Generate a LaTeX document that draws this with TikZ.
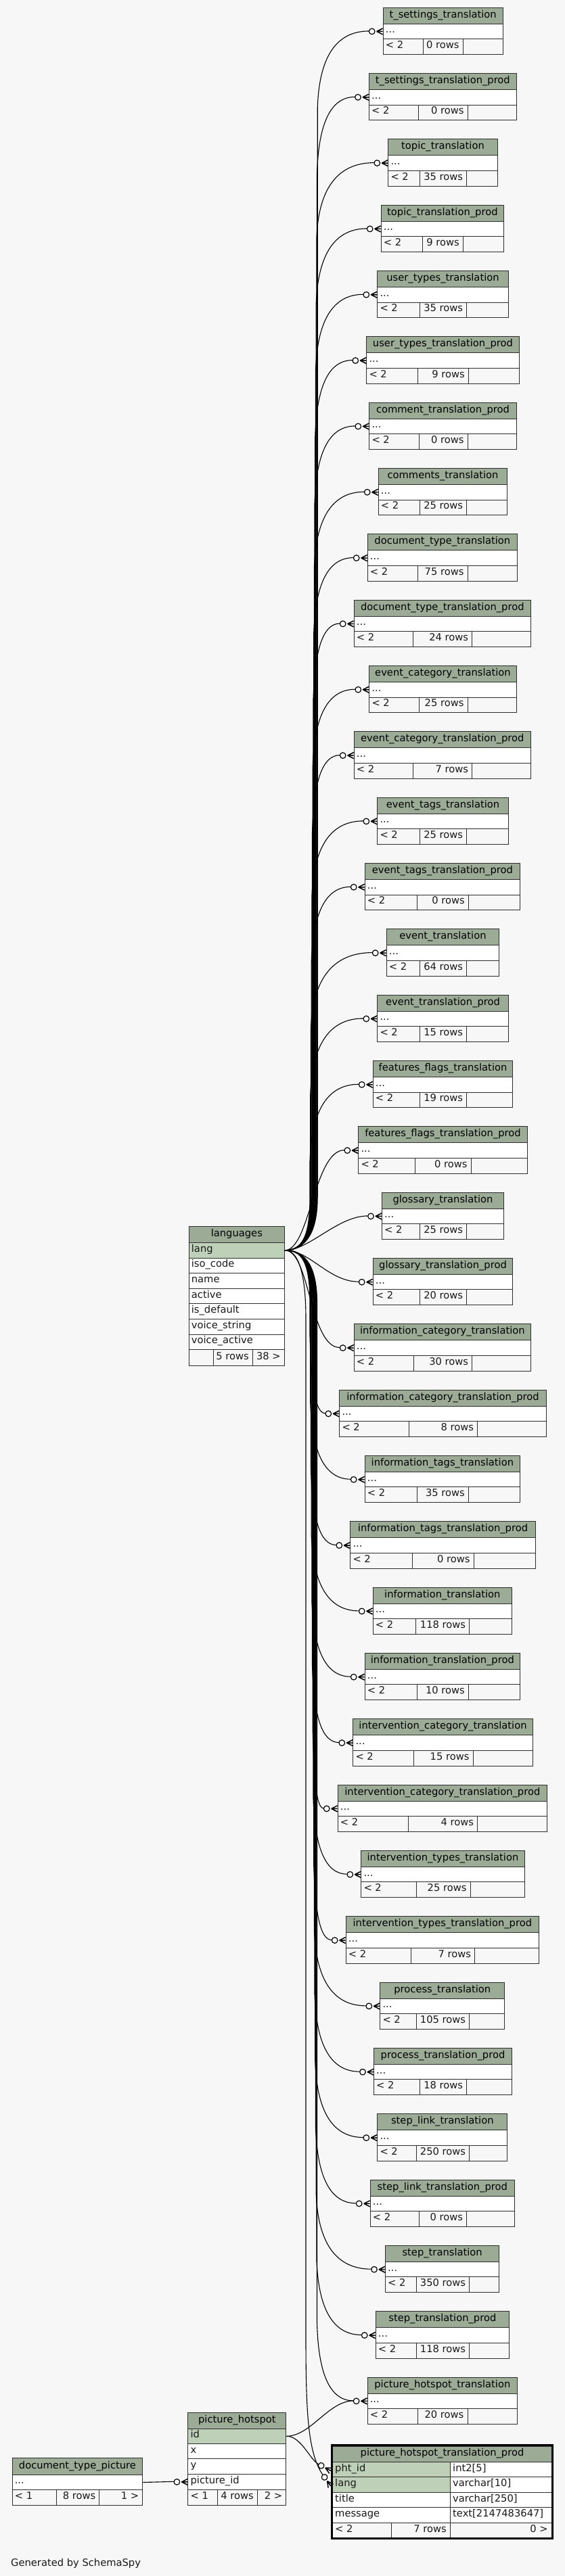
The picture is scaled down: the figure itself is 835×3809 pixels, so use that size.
\documentclass[tikz,border=0pt]{standalone}
\usepackage{fontspec}
\setmainfont{DejaVu Sans}
\definecolor{bgc}{HTML}{F7F7F7}
\definecolor{hdrc}{HTML}{9BAB96}
\definecolor{pkc}{HTML}{BED1B8}
\definecolor{bdc}{HTML}{2E2E2E}
\newcommand\fsz{\fontsize{14.7}{17}\selectfont}
\tikzset{
  hdrbox/.style={draw=bdc, line width=1pt, fill=hdrc, inner sep=0pt, minimum height=24pt, text height=9.5pt, text depth=3.5pt, font=\fsz},
  rowbox/.style={draw=bdc, line width=1pt, fill=white, inner sep=0pt, minimum height=22.5pt},
  footbox/.style={draw=bdc, line width=1pt, fill=bgc, inner sep=0pt, minimum height=22.8pt},
  txtn/.style={inner sep=0pt, font=\fsz, text=black!90},
  conn/.style={draw=black, line width=1.1pt},
  crowl/.style={draw=black, line width=1.5pt},
  circ/.style={draw=black, line width=1.2pt, fill=white},
}
% crow's foot with open circle; #1 angle (image coords, clockwise), #2 tip
\newcommand\crowfoot[2][0]{%
  \begin{scope}[shift={(#2)}, rotate=-#1]
    \draw[crowl] (-9,0) -- (0,0) (-9,0) -- (0,4.5) (-9,0) -- (0,-4.5);
    \draw[circ] (-16,0) circle[radius=4.3pt];
  \end{scope}}
% right-hand table: #1 idx, #2 L, #3 R, #4 c1, #5 c2, #6 title, #7 rows
\newcommand\rtab[7]{%
  \pgfmathsetmacro\rtT{10.7+(#1-1)*97.33}%
  \pgfmathsetmacro\rtA{\rtT+24}%
  \pgfmathsetmacro\rtB{\rtT+46.5}%
  \pgfmathsetmacro\rtC{\rtT+69.3}%
  \pgfmathsetmacro\rtW{#3-#2}%
  \pgfmathsetmacro\rtWa{#4-#2}%
  \pgfmathsetmacro\rtWb{#5-#4}%
  \pgfmathsetmacro\rtWc{#3-#5}%
  \node[hdrbox, minimum width=\rtW pt, anchor=north west] (h#1) at (#2,\rtT) {#6};
  \node[rowbox, minimum width=\rtW pt, anchor=north west] (r#1) at (#2,\rtA) {};
  \node[txtn, anchor=base west] (d#1) at (#2+4,\rtB-8.3) {...};
  \node[footbox, minimum width=\rtWa pt, anchor=north west] (fa#1) at (#2,\rtB) {};
  \node[footbox, minimum width=\rtWb pt, anchor=north west] (fb#1) at (#4,\rtB) {};
  \node[footbox, minimum width=\rtWc pt, anchor=north west] (fc#1) at (#5,\rtB) {};
  \node[txtn, anchor=base west] (ta#1) at (#2+4,\rtC-8.5) {< 2};
  \node[txtn, anchor=base east] (tb#1) at (#5-5,\rtC-8.5) {#7 rows};
  \coordinate (e#1) at (#2-20.3,\rtA+11.25);
}
\newcommand\upE[2]{%
  \pgfmathsetmacro\eY{10.7+(#1-1)*97.33+35.25}%
  \pgfmathsetmacro\eB{458+0.7*(17-#1)}%
  \pgfmathsetmacro\eC{\eB+0.35*(#2-20.3-\eB)}%
  \draw[conn] (lang.east) .. controls (445,1848.3) and (\eB,1832) .. (\eB,1770) -- (\eB,\eY+115) .. controls (\eB+2,\eY+40) and (\eC,\eY) .. (e#1);
  \crowfoot{r#1.west}}
\newcommand\downE[2]{%
  \pgfmathsetmacro\eY{10.7+(#1-1)*97.33+35.25}%
  \pgfmathsetmacro\eB{458+0.7*(#1-22)}%
  \pgfmathsetmacro\eC{\eB+0.35*(#2-20.3-\eB)}%
  \draw[conn] (lang.east) .. controls (445,1848.3) and (\eB,1864) .. (\eB,1926) -- (\eB,\eY-115) .. controls (\eB+2,\eY-40) and (\eC,\eY) .. (e#1);
  \crowfoot{r#1.west}}
\newcommand\sE[2]{%
  \pgfmathsetmacro\eY{10.7+(#1-1)*97.33+35.25}%
  \pgfmathsetmacro\eX{#2-20.3}%
  \draw[conn] (lang.east) .. controls (458,1848.3) and (\eX-45,\eY) .. (e#1);
  \crowfoot{r#1.west}}
% generic cell: #1 name, #2 x1, #3 y1, #4 x2, #5 y2, #6 style
\newcommand\cellbox[6]{%
  \pgfmathsetmacro\cbW{#4-#2}%
  \pgfmathsetmacro\cbH{#5-#3}%
  \node[#6, minimum width=\cbW pt, minimum height=\cbH pt, anchor=north west] (#1) at (#2,#3) {};}
\begin{document}
\begin{tikzpicture}[x=1pt,y=-1pt]
\fill[bgc] (0,0) rectangle (835,3809);
\useasboundingbox (0,0) rectangle (835,3809);

% ---------------- languages ----------------
\node[hdrbox, minimum width=141.3pt, anchor=north west] (langh) at (278.7,1813) {languages};
\cellbox{lang}{278.7}{1837}{420}{1859.6}{rowbox, fill=pkc}
\cellbox{lrow2}{278.7}{1859.6}{420}{1882.2}{rowbox}
\cellbox{lrow3}{278.7}{1882.2}{420}{1904.8}{rowbox}
\cellbox{lrow4}{278.7}{1904.8}{420}{1927.4}{rowbox}
\cellbox{lrow5}{278.7}{1927.4}{420}{1950}{rowbox}
\cellbox{lrow6}{278.7}{1950}{420}{1972.6}{rowbox}
\cellbox{lrow7}{278.7}{1972.6}{420}{1995.2}{rowbox}
\cellbox{lfa}{278.7}{1995.2}{314.7}{2018.5}{footbox}
\cellbox{lfb}{314.7}{1995.2}{373}{2018.5}{footbox}
\cellbox{lfc}{373}{1995.2}{420}{2018.5}{footbox}
\node[txtn, anchor=base west] (lt1) at (282.7,1851.3) {lang};
\node[txtn, anchor=base west] (lt2) at (282.7,1873.9) {iso\_code};
\node[txtn, anchor=base west] (lt3) at (282.7,1896.5) {name};
\node[txtn, anchor=base west] (lt4) at (282.7,1919.1) {active};
\node[txtn, anchor=base west] (lt5) at (282.7,1941.7) {is\_default};
\node[txtn, anchor=base west] (lt6) at (282.7,1964.3) {voice\_string};
\node[txtn, anchor=base west] (lt7) at (282.7,1986.9) {voice\_active};
\node[txtn, anchor=base east] (lt8) at (368,2010) {5 rows};
\node[txtn, anchor=base east] (lt9) at (415,2010) {38 >};

% ---------------- right tables ----------------
\rtab{1}{565.7}{742.7}{625}{683.7}{t\_settings\_translation}{0}
\rtab{2}{545}{762.7}{618.3}{690.7}{t\_settings\_translation\_prod}{0}
\rtab{3}{573.3}{734.7}{620}{689.3}{topic\_translation}{35}
\rtab{4}{562.7}{744}{623.7}{684}{topic\_translation\_prod}{9}
\rtab{5}{557.3}{750.7}{619.7}{689.3}{user\_types\_translation}{35}
\rtab{6}{541.3}{766.7}{617}{692}{user\_types\_translation\_prod}{9}
\rtab{7}{545.3}{762.7}{618.7}{690.7}{comment\_translation\_prod}{0}
\rtab{8}{558.7}{749.3}{619.7}{689.3}{comments\_translation}{25}
\rtab{9}{542.7}{764}{617}{690.7}{document\_type\_translation}{75}
\rtab{10}{522.7}{784}{610.3}{697.3}{document\_type\_translation\_prod}{24}
\rtab{11}{545.3}{762.7}{618.7}{690.7}{event\_category\_translation}{25}
\rtab{12}{522.7}{784}{610.3}{697.3}{event\_category\_translation\_prod}{7}
\rtab{13}{557.3}{750.7}{619.7}{689.3}{event\_tags\_translation}{25}
\rtab{14}{538.7}{768}{615.7}{692}{event\_tags\_translation\_prod}{0}
\rtab{15}{570.7}{737.3}{620}{689.3}{event\_translation}{64}
\rtab{16}{557.3}{750.7}{619.7}{689.3}{event\_translation\_prod}{15}
\rtab{17}{550.7}{757.3}{619.7}{689.3}{features\_flags\_translation}{19}
\rtab{18}{529.3}{778.7}{613}{695.7}{features\_flags\_translation\_prod}{0}
\rtab{19}{564}{744}{619.7}{689.3}{glossary\_translation}{25}
\rtab{20}{550.7}{757.3}{619.7}{689.3}{glossary\_translation\_prod}{20}
\rtab{21}{522.7}{784}{610.7}{697.3}{information\_category\_translation}{30}
\rtab{22}{501.3}{806.7}{603.7}{705.3}{information\_category\_translation\_prod}{8}
\rtab{23}{538.7}{768}{616}{692}{information\_tags\_translation}{35}
\rtab{24}{517.3}{790.7}{609.3}{699.7}{information\_tags\_translation\_prod}{0}
\rtab{25}{550.7}{756}{614.3}{693.3}{information\_translation}{118}
\rtab{26}{538.7}{768}{615.7}{692}{information\_translation\_prod}{10}
\rtab{27}{521.3}{786.7}{610.7}{698.7}{intervention\_category\_translation}{15}
\rtab{28}{498.7}{808}{602.7}{705.3}{intervention\_category\_translation\_prod}{4}
\rtab{29}{533.3}{774.7}{614.7}{694.7}{intervention\_types\_translation}{25}
\rtab{30}{510.7}{796}{606.7}{701.3}{intervention\_types\_translation\_prod}{7}
\rtab{31}{561.3}{745.3}{614.7}{693.3}{process\_translation}{105}
\rtab{32}{552}{756}{620}{689.3}{process\_translation\_prod}{18}
\rtab{33}{557.3}{749.3}{614.7}{693.3}{step\_link\_translation}{250}
\rtab{34}{546.7}{760}{618.7}{689.3}{step\_link\_translation\_prod}{0}
\rtab{35}{569}{737.3}{614.7}{693.3}{step\_translation}{350}
\rtab{36}{554.7}{752}{614.7}{693.3}{step\_translation\_prod}{118}
\rtab{37}{542.6}{764.1}{617.2}{690.6}{picture\_hotspot\_translation}{20}

% ---------------- picture_hotspot ----------------
\node[hdrbox, minimum width=144.9pt, anchor=north west] (phh) at (277.4,3566.7) {picture\_hotspot};
\cellbox{phid}{277.4}{3590.7}{422.3}{3612.9}{rowbox, fill=pkc}
\cellbox{phx}{277.4}{3612.9}{422.3}{3635.3}{rowbox}
\cellbox{phy}{277.4}{3635.3}{422.3}{3658}{rowbox}
\cellbox{picid}{277.4}{3658}{422.3}{3680.7}{rowbox}
\cellbox{phfa}{277.4}{3680.7}{321.1}{3703.7}{footbox}
\cellbox{phfb}{321.1}{3680.7}{379.7}{3703.7}{footbox}
\cellbox{phfc}{379.7}{3680.7}{422.3}{3703.7}{footbox}
\node[txtn, anchor=base west] (pht1) at (281.4,3604.5) {id};
\node[txtn, anchor=base west] (pht2) at (281.4,3627) {x};
\node[txtn, anchor=base west] (pht3) at (281.4,3649.6) {y};
\node[txtn, anchor=base west] (pht4) at (281.4,3672.3) {picture\_id};
\node[txtn, anchor=base west] (pht5) at (281.4,3695.2) {< 1};
\node[txtn, anchor=base east] (pht6) at (375,3695.2) {4 rows};
\node[txtn, anchor=base east] (pht7) at (417.5,3695.2) {2 >};

% ---------------- document_type_picture ----------------
\node[hdrbox, minimum width=192.7pt, minimum height=24.7pt, anchor=north west] (dth) at (17.6,3634.3) {document\_type\_picture};
\cellbox{dtrow}{17.6}{3659}{210.3}{3681}{rowbox}
\cellbox{dtfa}{17.6}{3681}{82.5}{3703.7}{footbox}
\cellbox{dtfb}{82.5}{3681}{146.4}{3703.7}{footbox}
\cellbox{dtfc}{146.4}{3681}{210.3}{3703.7}{footbox}
\node[txtn, anchor=base west] (dtt1) at (21.6,3672.7) {...};
\node[txtn, anchor=base west] (dtt2) at (21.6,3695.2) {< 1};
\node[txtn, anchor=base east] (dtt3) at (141.6,3695.2) {8 rows};
\node[txtn, anchor=base east] (dtt4) at (205.5,3695.2) {1 >};

% ---------------- picture_hotspot_translation_prod ----------------
\node[hdrbox, minimum width=324pt, minimum height=23.3pt, anchor=north west] (pph) at (491,3616.7) {picture\_hotspot\_translation\_prod};
\cellbox{pid}{491}{3640}{665}{3662.3}{rowbox, fill=pkc}
\cellbox{pidt}{665}{3640}{815}{3662.3}{rowbox}
\cellbox{plang}{491}{3662.3}{665}{3685}{rowbox, fill=pkc}
\cellbox{plangt}{665}{3662.3}{815}{3685}{rowbox}
\cellbox{ptitle}{491}{3685}{665}{3707.3}{rowbox}
\cellbox{ptitlet}{665}{3685}{815}{3707.3}{rowbox}
\cellbox{pmsg}{491}{3707.3}{665}{3730}{rowbox}
\cellbox{pmsgt}{665}{3707.3}{815}{3730}{rowbox}
\cellbox{ppfa}{491}{3730}{578.3}{3752.5}{footbox}
\cellbox{ppfb}{578.3}{3730}{665}{3752.5}{footbox}
\cellbox{ppfc}{665}{3730}{815}{3752.5}{footbox}
\draw[draw=black, line width=3pt] (490,3615) rectangle (816,3753.8);
\node[txtn, anchor=base west] (ppt1) at (495,3654) {pht\_id};
\node[txtn, anchor=base west] (ppt2) at (669,3654) {int2[5]};
\node[txtn, anchor=base west] (ppt3) at (495,3676.7) {lang};
\node[txtn, anchor=base west] (ppt4) at (669,3676.7) {varchar[10]};
\node[txtn, anchor=base west] (ppt5) at (495,3699) {title};
\node[txtn, anchor=base west] (ppt6) at (669,3699) {varchar[250]};
\node[txtn, anchor=base west] (ppt7) at (495,3721.7) {message};
\node[txtn, anchor=base west] (ppt8) at (669,3721.7) {text[2147483647]};
\node[txtn, anchor=base west] (ppt9) at (495,3744) {< 2};
\node[txtn, anchor=base east] (ppt10) at (660,3744) {7 rows};
\node[txtn, anchor=base east] (ppt11) at (810,3744) {0 >};

% ---------------- connectors from languages ----------------
\upE{1}{565.7}
\upE{2}{545}
\upE{3}{573.3}
\upE{4}{562.7}
\upE{5}{557.3}
\upE{6}{541.3}
\upE{7}{545.3}
\upE{8}{558.7}
\upE{9}{542.7}
\upE{10}{522.7}
\upE{11}{545.3}
\upE{12}{522.7}
\upE{13}{557.3}
\upE{14}{538.7}
\upE{15}{570.7}
\upE{16}{557.3}
\upE{17}{550.7}
\sE{18}{529.3}
\sE{19}{564}
\sE{20}{550.7}
\sE{21}{522.7}
\downE{22}{501.3}
\downE{23}{538.7}
\downE{24}{517.3}
\downE{25}{550.7}
\downE{26}{538.7}
\downE{27}{521.3}
\downE{28}{498.7}
\downE{29}{533.3}
\downE{30}{510.7}
\downE{31}{561.3}
\downE{32}{552}
\downE{33}{557.3}
\downE{34}{546.7}
\downE{35}{569}
\downE{36}{554.7}
\downE{37}{542.6}

% languages -> picture_hotspot_translation_prod.lang
\coordinate (tp2) at (488.8,3676);
\coordinate (ep2) at (477.1,3659.4);
\draw[conn] (lang.east) .. controls (440,1848.3) and (452,1880) .. (452,1950) -- (452,3450) .. controls (452,3560) and (454.1,3626.6) .. (ep2);
\crowfoot[55]{tp2}

% picture_hotspot.id -> picture_hotspot_translation
\draw[conn] (phid.east) .. controls (460,3601.8) and (485,3550.3) .. (e37);
% picture_hotspot.id -> picture_hotspot_translation_prod.pht_id
\coordinate (tp1) at (488.8,3653.3);
\coordinate (ep1) at (470.9,3643.8);
\draw[conn] (phid.east) .. controls (445,3601.8) and (457.7,3636.8) .. (ep1);
\crowfoot[28]{tp1}

% document_type_picture -> picture_hotspot.picture_id
\coordinate (epic) at (257.1,3669.3);
\draw[conn] (dtrow.east) -- (epic);
\crowfoot{picid.west}

\node[txtn, anchor=base west] (gen) at (16,3794) {Generated by SchemaSpy};
\end{tikzpicture}
\end{document}
